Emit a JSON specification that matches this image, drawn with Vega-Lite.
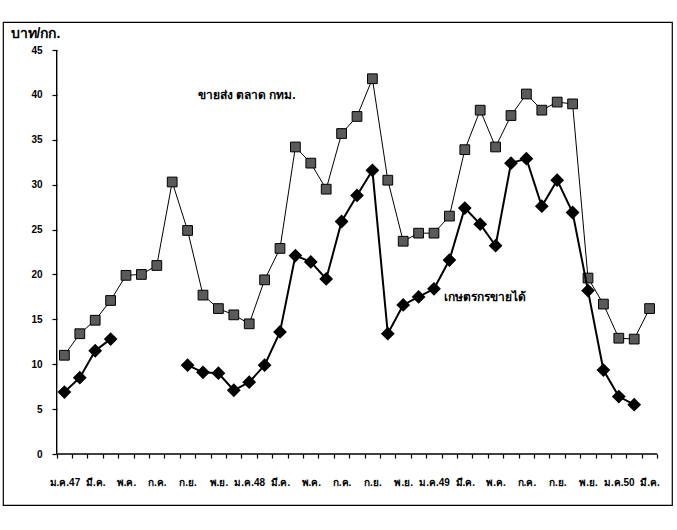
{
  "$schema": "https://vega.github.io/schema/vega-lite/v6.json",
  "width": 669,
  "height": 483,
  "autosize": {"type": "none"},
  "padding": {"left": 3, "top": 22, "right": 5, "bottom": 25},
  "background": "white",
  "config": {
    "view": {"stroke": "#000", "strokeWidth": 1.2},
    "axis": {"labelFont": "Liberation Sans", "labelFontWeight": "bold", "labelColor": "#000", "tickColor": "#000", "tickWidth": 1.2, "grid": false, "domain": false}
  },
  "datasets": {
    "wholesale": [
      {"month": "2004-01", "price": 11.0}, {"month": "2004-02", "price": 13.4}, {"month": "2004-03", "price": 14.9},
      {"month": "2004-04", "price": 17.1}, {"month": "2004-05", "price": 19.9}, {"month": "2004-06", "price": 20.0},
      {"month": "2004-07", "price": 21.0}, {"month": "2004-08", "price": 30.3}, {"month": "2004-09", "price": 24.9},
      {"month": "2004-10", "price": 17.7}, {"month": "2004-11", "price": 16.2}, {"month": "2004-12", "price": 15.5},
      {"month": "2005-01", "price": 14.5}, {"month": "2005-02", "price": 19.4}, {"month": "2005-03", "price": 22.9},
      {"month": "2005-04", "price": 34.2}, {"month": "2005-05", "price": 32.4}, {"month": "2005-06", "price": 29.5},
      {"month": "2005-07", "price": 35.7}, {"month": "2005-08", "price": 37.6}, {"month": "2005-09", "price": 41.8},
      {"month": "2005-10", "price": 30.5}, {"month": "2005-11", "price": 23.7}, {"month": "2005-12", "price": 24.6},
      {"month": "2006-01", "price": 24.6}, {"month": "2006-02", "price": 26.5}, {"month": "2006-03", "price": 33.9},
      {"month": "2006-04", "price": 38.3}, {"month": "2006-05", "price": 34.2}, {"month": "2006-06", "price": 37.7},
      {"month": "2006-07", "price": 40.1}, {"month": "2006-08", "price": 38.3}, {"month": "2006-09", "price": 39.2},
      {"month": "2006-10", "price": 39.0}, {"month": "2006-11", "price": 19.6}, {"month": "2006-12", "price": 16.7},
      {"month": "2007-01", "price": 12.9}, {"month": "2007-02", "price": 12.8}, {"month": "2007-03", "price": 16.2}
    ],
    "farmer": [
      {"month": "2004-01", "price": 6.9, "segment": 1}, {"month": "2004-02", "price": 8.5, "segment": 1},
      {"month": "2004-03", "price": 11.5, "segment": 1}, {"month": "2004-04", "price": 12.8, "segment": 1},
      {"month": "2004-09", "price": 9.9, "segment": 2}, {"month": "2004-10", "price": 9.1, "segment": 2},
      {"month": "2004-11", "price": 9.0, "segment": 2}, {"month": "2004-12", "price": 7.1, "segment": 2},
      {"month": "2005-01", "price": 8.0, "segment": 2}, {"month": "2005-02", "price": 9.9, "segment": 2},
      {"month": "2005-03", "price": 13.6, "segment": 2}, {"month": "2005-04", "price": 22.1, "segment": 2},
      {"month": "2005-05", "price": 21.4, "segment": 2}, {"month": "2005-06", "price": 19.5, "segment": 2},
      {"month": "2005-07", "price": 25.9, "segment": 2}, {"month": "2005-08", "price": 28.8, "segment": 2},
      {"month": "2005-09", "price": 31.6, "segment": 2}, {"month": "2005-10", "price": 13.4, "segment": 2},
      {"month": "2005-11", "price": 16.6, "segment": 2}, {"month": "2005-12", "price": 17.5, "segment": 2},
      {"month": "2006-01", "price": 18.4, "segment": 2}, {"month": "2006-02", "price": 21.6, "segment": 2},
      {"month": "2006-03", "price": 27.4, "segment": 2}, {"month": "2006-04", "price": 25.6, "segment": 2},
      {"month": "2006-05", "price": 23.2, "segment": 2}, {"month": "2006-06", "price": 32.4, "segment": 2},
      {"month": "2006-07", "price": 32.9, "segment": 2}, {"month": "2006-08", "price": 27.6, "segment": 2},
      {"month": "2006-09", "price": 30.5, "segment": 2}, {"month": "2006-10", "price": 26.9, "segment": 2},
      {"month": "2006-11", "price": 18.2, "segment": 2}, {"month": "2006-12", "price": 9.35, "segment": 2},
      {"month": "2007-01", "price": 6.4, "segment": 2}, {"month": "2007-02", "price": 5.5, "segment": 2}
    ],
    "notes": [
      {"label": "ขายส่ง ตลาด กทม.", "month": "2004-09", "price": 40.0},
      {"label": "เกษตรกรขายได้", "month": "2006-01", "price": 17.5}
    ]
  },
  "layer": [
    {
      "data": {"name": "wholesale"},
      "mark": {"type": "line", "color": "#000", "strokeWidth": 1},
      "encoding": {
        "x": {
          "field": "month", "type": "ordinal",
          "scale": {"type": "band", "paddingInner": 0, "paddingOuter": 0, "range": [53.7, 654.3]},
          "axis": {
            "title": null, "offset": -51, "tickBand": "extent", "tickSize": 4,
            "labelAngle": 0, "labelFontSize": 10, "labelPadding": 24, "labelBaseline": "middle",
            "labelOverlap": false, "labelBound": false, "labelDx": -5,
            "labelExpr": "isString(datum.value) && length(datum.value) >= 7 ? (parseInt(slice(datum.value,5,7)) % 2 == 1 ? (['ม.ค.','','มี.ค.','','พ.ค.','','ก.ค.','','ก.ย.','','พ.ย.',''][parseInt(slice(datum.value,5,7))-1] + (slice(datum.value,5,7) == '01' ? toString(parseInt(slice(datum.value,0,4)) + 43 - 2000) : '')) : '') : ''"
          }
        },
        "y": {
          "field": "price", "type": "quantitative",
          "scale": {"domain": [-5.68, 48.12], "nice": false, "zero": false},
          "axis": {
            "title": "บาท/กก.", "titleAngle": 0, "titleAlign": "left", "titleBaseline": "middle",
            "titleX": -47, "titleY": 11, "titleFont": "Liberation Sans", "titleFontSize": 14, "titleFontWeight": "bold", "titleColor": "#000",
            "offset": -54, "values": [0, 5, 10, 15, 20, 25, 30, 35, 40, 45],
            "tickSize": 5, "labelFontSize": 10, "labelPadding": 10
          }
        }
      }
    },
    {
      "data": {"name": "wholesale"},
      "mark": {"type": "point", "shape": "square", "size": 95, "filled": true, "fill": "#5a5a5a", "stroke": "#000", "strokeWidth": 1, "opacity": 1},
      "encoding": {
        "x": {"field": "month", "type": "ordinal"},
        "y": {"field": "price", "type": "quantitative"}
      }
    },
    {
      "data": {"name": "farmer"},
      "mark": {"type": "line", "color": "#000", "strokeWidth": 2},
      "encoding": {
        "x": {"field": "month", "type": "ordinal"},
        "y": {"field": "price", "type": "quantitative"},
        "detail": {"field": "segment", "type": "nominal"}
      }
    },
    {
      "data": {"name": "farmer"},
      "mark": {"type": "point", "shape": "diamond", "size": 120, "filled": true, "fill": "#000", "stroke": "#000", "opacity": 1},
      "encoding": {
        "x": {"field": "month", "type": "ordinal"},
        "y": {"field": "price", "type": "quantitative"}
      }
    },
    {
      "data": {"values": [{}]},
      "mark": {"type": "rule", "color": "#000", "strokeWidth": 1.4, "xOffset": -7.7},
      "encoding": {
        "x": {"datum": "2004-01", "type": "ordinal"},
        "y": {"datum": 0, "type": "quantitative"},
        "y2": {"datum": 45}
      }
    },
    {
      "data": {"values": [{}]},
      "mark": {"type": "rule", "color": "#000", "strokeWidth": 1.4, "xOffset": -7.7, "x2Offset": 7.7},
      "encoding": {
        "x": {"datum": "2004-01", "type": "ordinal"},
        "x2": {"datum": "2007-03"},
        "y": {"datum": 0, "type": "quantitative"}
      }
    },
    {
      "data": {"name": "notes"},
      "mark": {"type": "text", "align": "left", "baseline": "middle", "dx": 10, "fontSize": 12, "fontWeight": "bold", "color": "#000"},
      "encoding": {
        "x": {"field": "month", "type": "ordinal"},
        "y": {"field": "price", "type": "quantitative"},
        "text": {"field": "label"}
      }
    }
  ]
}
